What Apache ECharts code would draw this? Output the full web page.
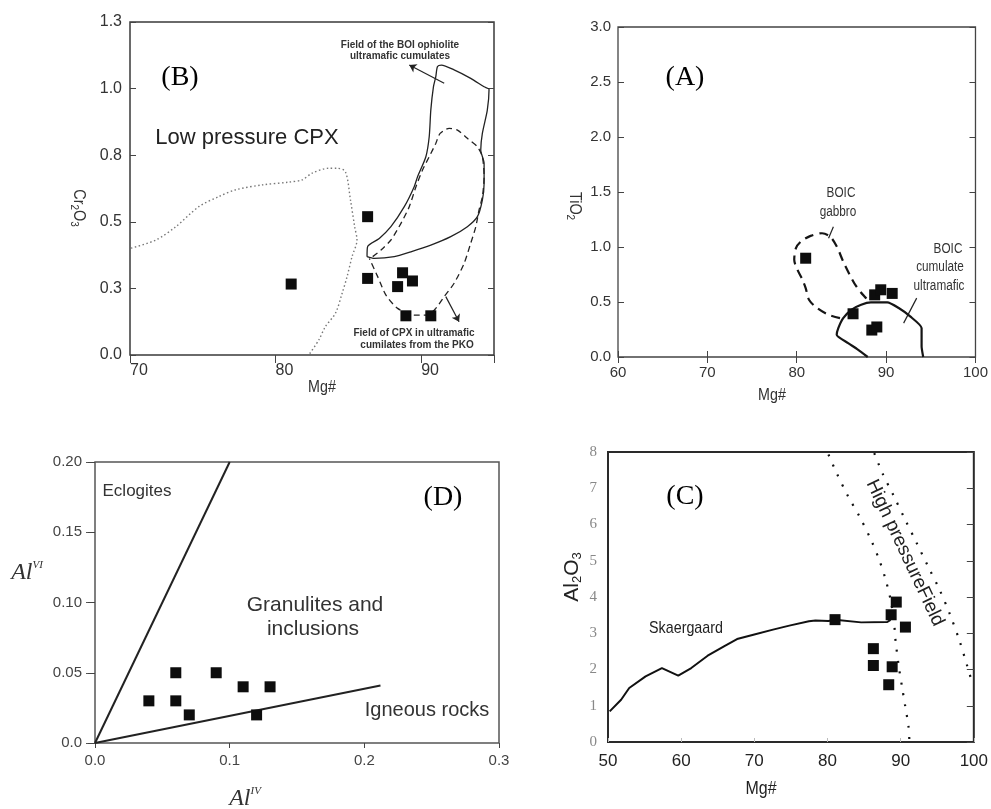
<!DOCTYPE html>
<html><head><meta charset="utf-8">
<script src="https://cdn.jsdelivr.net/npm/echarts@6/dist/echarts.min.js"></script>
<style>html,body{margin:0;padding:0;background:#fff}#c{width:991px;height:809px}</style>
</head><body><div id="c"></div>
<script>
// ---------- DATA ----------
// Panel (B): Cr2O3 vs Mg#
const B_PTS_X = [81.07, 86.32, 86.32, 88.72, 88.38, 89.4, 88.95, 90.66];
const B_PTS_Y = [0.277, 0.540, 0.299, 0.321, 0.267, 0.289, 0.153, 0.153];
const B_BOI_X = [86.28, 86.32, 87.12, 87.92, 88.84, 89.52, 89.75, 90.32, 90.55, 90.66, 90.84, 91.0, 91.12, 91.39, 92.26, 93.40, 94.32, 94.66, 94.54, 94.2, 94.09, 94.32, 94.32, 94.2, 93.86, 93.17, 92.03, 90.66, 89.29, 88.15, 86.78, 86.28];
const B_BOI_Y = [0.384, 0.423, 0.455, 0.501, 0.579, 0.657, 0.696, 0.774, 0.852, 0.956, 1.047, 1.086, 1.126, 1.132, 1.113, 1.080, 1.047, 1.037, 0.956, 0.865, 0.800, 0.748, 0.670, 0.605, 0.540, 0.501, 0.462, 0.429, 0.403, 0.384, 0.377, 0.384];
const B_PKO_X = [86.67, 87.24, 87.92, 88.61, 89.18, 89.64, 90.09, 90.55, 91.0, 91.3, 91.92, 92.49, 93.17, 93.86, 94.2, 94.32, 94.2, 93.97, 93.75, 93.4, 92.95, 92.26, 91.58, 91.0, 90.43, 89.52, 88.38, 87.58, 87.01, 86.44];
const B_PKO_Y = [0.384, 0.410, 0.449, 0.514, 0.579, 0.657, 0.722, 0.774, 0.826, 0.865, 0.885, 0.878, 0.846, 0.813, 0.774, 0.696, 0.618, 0.566, 0.501, 0.436, 0.358, 0.280, 0.228, 0.182, 0.156, 0.156, 0.182, 0.234, 0.306, 0.377];
const B_LOWP_X = [70.07, 71.78, 73.15, 74.75, 76.12, 77.26, 79.09, 80.91, 81.83, 82.51, 83.65, 84.22, 84.79, 85.14, 85.43, 85.59, 85.25, 84.91, 84.57, 84.11, 83.42, 82.97, 82.28];
const B_LOWP_Y = [0.417, 0.449, 0.501, 0.580, 0.619, 0.645, 0.664, 0.675, 0.684, 0.710, 0.729, 0.729, 0.716, 0.606, 0.501, 0.449, 0.384, 0.306, 0.241, 0.163, 0.111, 0.059, 0.0];
const B_ARROWS = [[[91.58, 1.061], [89.18, 1.132]], [[91.69, 0.228], [92.6, 0.130]]];
const B_X_TICKS = ['70', '80', '90'];
const B_Y_TICKS = ['0.0', '0.3', '0.5', '0.8', '1.0', '1.3'];

// Panel (A): TiO2 vs Mg#
const A_PTS_X = [81.0, 86.3, 88.72, 89.4, 90.68, 88.4, 88.96];
const A_PTS_Y = [0.898, 0.393, 0.565, 0.611, 0.578, 0.245, 0.273];
const A_GAB_X = [84.84, 83.56, 82.28, 81.37, 81.0, 80.64, 80.09, 79.72, 79.91, 80.45, 81.55, 82.83, 83.74, 84.48, 85.2, 85.93, 86.67, 87.58, 88.13];
const A_GAB_Y = [0.354, 0.384, 0.445, 0.520, 0.626, 0.702, 0.792, 0.883, 0.989, 1.049, 1.101, 1.125, 1.094, 1.004, 0.868, 0.747, 0.641, 0.550, 0.505];
const A_CUM_X = [87.94, 86.84, 85.75, 84.47, 84.65, 85.2, 86.11, 87.21, 88.3, 90.13, 91.41, 92.69, 93.97, 93.97, 94.15];
const A_CUM_Y = [0.0, 0.067, 0.127, 0.202, 0.263, 0.354, 0.429, 0.475, 0.496, 0.496, 0.445, 0.369, 0.263, 0.097, 0.0];
const A_LEADERS = [[[83.56, 1.08], [84.1, 1.185]], [[91.96, 0.308], [93.42, 0.535]]];
const A_X_TICKS = ['60', '70', '80', '90', '100'];
const A_Y_TICKS = ['0.0', '0.5', '1.0', '1.5', '2.0', '2.5', '3.0'];

// Panel (D): AlVI vs AlIV
const D_PTS_X = [0.04, 0.06, 0.06, 0.07, 0.09, 0.11, 0.13, 0.12];
const D_PTS_Y = [0.03, 0.05, 0.03, 0.02, 0.05, 0.04, 0.04, 0.02];
const D_ECLOG_X = [0.0, 0.1];
const D_ECLOG_Y = [0.0, 0.2];
const D_IGN_X = [0.0, 0.212];
const D_IGN_Y = [0.0, 0.041];
const D_X_TICKS = ['0.0', '0.1', '0.2', '0.3'];
const D_Y_TICKS = ['0.0', '0.05', '0.10', '0.15', '0.20'];

// Panel (C): Al2O3 vs Mg#
const C_PTS_X = [81.03, 88.7, 89.4, 90.65, 86.27, 86.27, 88.84, 88.37];
const C_PTS_Y = [3.375, 3.51, 3.86, 3.17, 2.575, 2.11, 2.075, 1.58];
const C_SKA_X = [50.23, 51.79, 52.9, 55.14, 57.37, 59.6, 61.38, 63.62, 65.85, 67.64, 69.87, 72.55, 74.78, 77.46, 78.35, 80.13, 81.03, 84.6, 88.17, 88.62];
const C_SKA_Y = [0.845, 1.167, 1.49, 1.81, 2.04, 1.83, 2.04, 2.38, 2.64, 2.84, 2.96, 3.10, 3.21, 3.33, 3.35, 3.34, 3.37, 3.30, 3.31, 3.37];
const C_HP1_X = [80.13, 81.25, 82.81, 84.38, 85.94, 87.06, 87.95, 88.62, 89.07, 89.29, 89.74, 90.18, 90.63, 91.07, 91.2];
const C_HP1_Y = [7.93, 7.42, 6.78, 6.22, 5.58, 5.03, 4.48, 3.93, 3.37, 2.82, 2.09, 1.53, 0.98, 0.43, 0.0];
const C_HP2_X = [86.39, 87.5, 89.07, 90.63, 92.19, 93.75, 95.32, 96.66, 98.0, 99.11, 99.78];
const C_HP2_Y = [7.97, 7.42, 6.78, 6.13, 5.49, 4.84, 4.20, 3.56, 2.82, 2.09, 1.63];
const C_X_TICKS = ['50', '60', '70', '80', '90', '100'];
const C_Y_TICKS = ['0', '1', '2', '3', '4', '5', '6', '7', '8'];

// ---------- BUILD ----------
const zip = (xs, ys) => xs.map((x, i) => [x, ys[i]]);
const NARROW = "'Liberation Sans Narrow','Arial Narrow','Liberation Sans',Arial,sans-serif";
const SANS = "'Liberation Sans',Arial,Helvetica,sans-serif";
const SERIF = "'Liberation Serif','Times New Roman',serif";

const grids = [
  {left: 130, top: 22, width: 364, height: 333, show: true, borderColor: '#3a3a3a', borderWidth: 1.5},
  {left: 618, top: 27, width: 365, height: 330, show: true, borderColor: '#444', borderWidth: 1.3},
  {left: 95, top: 462, width: 404, height: 281, show: true, borderColor: '#555', borderWidth: 1.5},
  {left: 608, top: 452, width: 374, height: 290, show: true, borderColor: '#2a2a2a', borderWidth: 2}
];

function mkX(grid, min, max, interval, labels, opt) {
  return Object.assign({
    type: 'value', gridIndex: grid, min: min, max: max, interval: interval, position: 'bottom',
    axisLine: {show: false}, splitLine: {show: false},
    axisTick: {show: true, inside: true, length: 6, lineStyle: {color: '#444', width: 1}},
    axisLabel: {formatter: (v, i) => labels[i], color: '#333', fontFamily: NARROW, fontSize: 16, margin: 8}
  }, opt || {});
}
function mkY(grid, min, max, interval, labels, opt) {
  return Object.assign({
    type: 'value', gridIndex: grid, min: min, max: max, interval: interval, position: 'left',
    axisLine: {show: false}, splitLine: {show: false},
    axisTick: {show: true, inside: true, length: 6, lineStyle: {color: '#444', width: 1}},
    axisLabel: {formatter: (v, i) => labels[i], color: '#333', fontFamily: NARROW, fontSize: 16, margin: 8}
  }, opt || {});
}
function mirrorX(grid, min, max, interval, len) {
  return {type: 'value', gridIndex: grid, min: min, max: max, interval: interval, position: 'top',
    axisLine: {show: false}, splitLine: {show: false}, axisLabel: {show: false},
    axisTick: {show: len > 0, inside: true, length: len, lineStyle: {color: '#444', width: 1}}};
}
function mirrorY(grid, min, max, interval, len) {
  return {type: 'value', gridIndex: grid, min: min, max: max, interval: interval, position: 'right',
    axisLine: {show: false}, splitLine: {show: false}, axisLabel: {show: false},
    axisTick: {show: len > 0, inside: true, length: len, lineStyle: {color: '#444', width: 1}}};
}

const xAxes = [
  mkX(0, 70, 95, 10, B_X_TICKS, {axisTick: {show: false}, axisLabel: {formatter: (v, i) => B_X_TICKS[i], color: '#333', fontFamily: NARROW, fontSize: 16, margin: 8, align: 'left'}}),
  mkX(1, 60, 100, 10, A_X_TICKS, {axisLabel: {formatter: (v, i) => A_X_TICKS[i], color: '#333', fontFamily: NARROW, fontSize: 15, margin: 8}}),
  mkX(2, 0, 0.3, 0.1, D_X_TICKS, {axisTick: {show: false}, axisLabel: {formatter: (v, i) => D_X_TICKS[i], color: '#444', fontFamily: SANS, fontSize: 15, margin: 10}}),
  mkX(3, 50, 100, 10, C_X_TICKS, {axisTick: {show: true, inside: true, length: 4, lineStyle: {color: '#bbb'}}, axisLabel: {formatter: (v, i) => C_X_TICKS[i], color: '#222', fontFamily: NARROW, fontSize: 17, margin: 11}}),
  mirrorX(0, 70, 95, 10, 8),
  mirrorX(1, 60, 100, 10, 6),
  mirrorX(2, 0, 0.3, 0.1, 5),
  mirrorX(3, 50, 100, 10, 0)
];
const yAxes = [
  mkY(0, 0, 1.3, 0.26, B_Y_TICKS, {axisLabel: {formatter: (v, i) => B_Y_TICKS[i], color: '#333', fontFamily: NARROW, fontSize: 16, margin: 8}}),
  mkY(1, 0, 3, 0.5, A_Y_TICKS, {axisLabel: {formatter: (v, i) => A_Y_TICKS[i], color: '#333', fontFamily: NARROW, fontSize: 15, margin: 7}}),
  mkY(2, 0, 0.2, 0.05, D_Y_TICKS, {axisTick: {show: true, inside: false, length: 9, lineStyle: {color: '#555'}}, axisLabel: {formatter: (v, i) => D_Y_TICKS[i], color: '#444', fontFamily: SANS, fontSize: 15, margin: 13}}),
  mkY(3, 0, 8, 1, C_Y_TICKS, {axisTick: {show: false}, axisLabel: {formatter: (v, i) => C_Y_TICKS[i], color: '#888', fontFamily: SERIF, fontSize: 15, margin: 11}}),
  mirrorY(0, 0, 1.3, 0.26, 6),
  mirrorY(1, 0, 3, 0.5, 6),
  mirrorY(2, 0, 0.2, 0.05, 7),
  mirrorY(3, 0, 8, 1, 7)
];

function scat(ax, xs, ys) {
  return {type: 'scatter', xAxisIndex: ax, yAxisIndex: ax, symbol: 'rect', symbolSize: 11,
    itemStyle: {color: '#0d0d0d', opacity: 1}, data: zip(xs, ys), z: 5};
}
function ln(ax, xs, ys, style, smooth) {
  return {type: 'line', xAxisIndex: ax, yAxisIndex: ax, data: zip(xs, ys), showSymbol: false, symbol: 'none',
    smooth: smooth || 0, lineStyle: style, silent: true};
}
function arrows(ax, segs, arrow) {
  return {type: 'lines', coordinateSystem: 'cartesian2d', xAxisIndex: ax, yAxisIndex: ax,
    symbol: arrow ? ['none', 'arrow'] : ['none', 'none'], symbolSize: 7,
    lineStyle: {color: '#222', width: 1.2, opacity: 1}, data: segs.map(s => ({coords: s}))};
}

const series = [
  // B
  ln(0, B_LOWP_X, B_LOWP_Y, {color: '#777', width: 1.4, type: [1.5, 2.5]}, 0.3),
  ln(0, B_BOI_X, B_BOI_Y, {color: '#222', width: 1.3}, 0.25),
  ln(0, B_PKO_X, B_PKO_Y, {color: '#222', width: 1.3, type: [6, 4]}, 0.25),
  arrows(0, B_ARROWS, true),
  scat(0, B_PTS_X, B_PTS_Y),
  // A
  ln(1, A_GAB_X, A_GAB_Y, {color: '#151515', width: 2.2, type: [9, 6]}, 0.3),
  ln(1, A_CUM_X, A_CUM_Y, {color: '#151515', width: 2.2}, 0.2),
  arrows(1, A_LEADERS, false),
  scat(1, A_PTS_X, A_PTS_Y),
  // D
  ln(2, D_ECLOG_X, D_ECLOG_Y, {color: '#222', width: 2}),
  ln(2, D_IGN_X, D_IGN_Y, {color: '#222', width: 2}),
  scat(2, D_PTS_X, D_PTS_Y),
  // C
  ln(3, C_SKA_X, C_SKA_Y, {color: '#111', width: 2}),
  ln(3, C_HP1_X, C_HP1_Y, {color: '#111', width: 2.2, type: [2, 9]}, 0.3),
  ln(3, C_HP2_X, C_HP2_Y, {color: '#111', width: 2.2, type: [2, 9]}, 0.3),
  scat(3, C_PTS_X, C_PTS_Y)
];

function txt(x, y, text, font, fill, extra) {
  return Object.assign({type: 'text', x: x, y: y, z: 10,
    style: {text: text, font: font, fill: fill || '#222', align: 'center', verticalAlign: 'middle'}}, extra || {});
}
function rich(x, y, text, richDef, rotation, extra) {
  return Object.assign({type: 'text', x: x, y: y, rotation: rotation || 0, z: 10,
    style: {text: text, rich: richDef, align: 'center', verticalAlign: 'middle', fill: '#333'}}, extra || {});
}
const NARROWED = {scaleX: 0.84};

const graphics = [
  // panel letters
  txt(180, 78, '(B)', '28px ' + SERIF, '#000'),
  txt(685, 78, '(A)', '28px ' + SERIF, '#000'),
  txt(443, 498, '(D)', '28px ' + SERIF, '#000'),
  txt(685, 497, '(C)', '28px ' + SERIF, '#000'),
  // B annotations
  txt(247, 138, 'Low pressure CPX', '22px ' + SANS, '#222'),
  txt(400, 45, 'Field of the BOI ophiolite', 'bold 10px ' + SANS, '#333'),
  txt(400, 56, 'ultramafic cumulates', 'bold 10px ' + SANS, '#333'),
  txt(414, 333, 'Field of CPX in ultramafic', 'bold 10px ' + SANS, '#333'),
  txt(417, 345, 'cumilates from the PKO', 'bold 10px ' + SANS, '#333'),
  txt(322, 387, 'Mg#', '17px ' + NARROW, '#333', NARROWED),
  rich(78, 208, '{n|Cr}{s|2}{n|O}{s|3}', {
    n: {font: '16px ' + NARROW, fill: '#333', lineHeight: 18},
    s: {font: '11px ' + NARROW, fill: '#333', lineHeight: 10, verticalAlign: 'bottom'}
  }, -Math.PI / 2, {scaleX: 0.9}),
  // A annotations
  txt(841, 193, 'BOIC', '14px ' + NARROW, '#333', NARROWED),
  txt(838, 212, 'gabbro', '14px ' + NARROW, '#333', NARROWED),
  txt(948, 249, 'BOIC', '14px ' + NARROW, '#333', NARROWED),
  txt(940, 267, 'cumulate', '14px ' + NARROW, '#333', NARROWED),
  txt(939, 286, 'ultramafic', '14px ' + NARROW, '#333', NARROWED),
  txt(772, 395, 'Mg#', '17px ' + NARROW, '#333', NARROWED),
  rich(574, 206, '{n|TiO}{s|2}', {
    n: {font: '16px ' + NARROW, fill: '#333', lineHeight: 18},
    s: {font: '11px ' + NARROW, fill: '#333', lineHeight: 10, verticalAlign: 'bottom'}
  }, -Math.PI / 2, {scaleX: 0.9}),
  // D annotations
  txt(137, 491, 'Eclogites', '17px ' + SANS, '#333'),
  txt(315, 605, 'Granulites and', '21px ' + SANS, '#333'),
  txt(313, 629, 'inclusions', '21px ' + SANS, '#333'),
  txt(427, 710, 'Igneous rocks', '20px ' + SANS, '#333'),
  rich(27, 573, '{n|Al}{s|VI}', {
    n: {font: 'italic 24px ' + SERIF, fill: '#333', lineHeight: 26},
    s: {font: 'italic 11px ' + SERIF, fill: '#333', lineHeight: 12, verticalAlign: 'top'}
  }, 0),
  rich(245, 799, '{n|Al}{s|IV}', {
    n: {font: 'italic 24px ' + SERIF, fill: '#333', lineHeight: 26},
    s: {font: 'italic 11px ' + SERIF, fill: '#333', lineHeight: 12, verticalAlign: 'top'}
  }, 0),
  // C annotations
  txt(686, 628, 'Skaergaard', '17px ' + NARROW, '#222', NARROWED),
  txt(905, 553, 'High pressureField', '19px ' + SANS, '#222', {rotation: -1.13}),
  txt(761, 789, 'Mg#', '19px ' + NARROW, '#222', NARROWED),
  rich(572, 577, '{n|Al}{s|2}{n|O}{s|3}', {
    n: {font: '21px ' + SANS, fill: '#222', lineHeight: 24},
    s: {font: '13px ' + SANS, fill: '#222', lineHeight: 12, verticalAlign: 'bottom'}
  }, Math.PI / 2)
];

const chart = echarts.init(document.getElementById('c'), null, {renderer: 'canvas'});
chart.setOption({
  animation: false,
  backgroundColor: '#fff',
  grid: grids,
  xAxis: xAxes,
  yAxis: yAxes,
  series: series,
  graphic: graphics
});
</script>
</body></html>
